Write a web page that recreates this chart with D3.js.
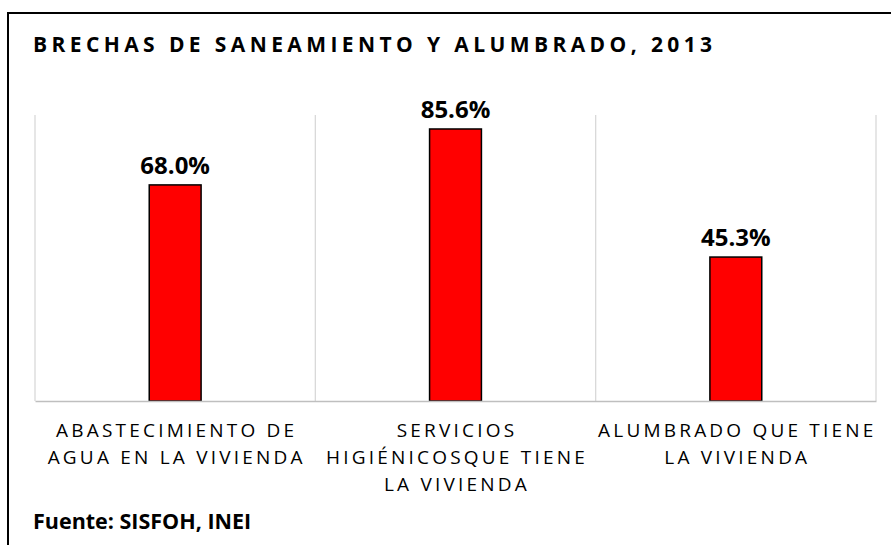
<!DOCTYPE html>
<html>
<head>
<meta charset="utf-8">
<script src="https://cdn.jsdelivr.net/npm/d3@7"></script>
<style>
  html, body { margin: 0; padding: 0; background: #fff; }
  svg { display: block; }
  text { font-family: "Open Sans", "Noto Sans", sans-serif; }
</style>
</head>
<body>
<svg id="chart" width="891" height="545"></svg>
<script>
const title = "BRECHAS DE SANEAMIENTO Y ALUMBRADO, 2013";
const source = "Fuente: SISFOH, INEI";
const categories = [
  ["ABASTECIMIENTO DE", "AGUA EN LA VIVIENDA"],
  ["SERVICIOS", "HIGIÉNICOSQUE TIENE", "LA VIVIENDA"],
  ["ALUMBRADO QUE TIENE", "LA VIVIENDA"]
];
const values = [68.0, 85.6, 45.3];
const valueLabels = ["68.0%", "85.6%", "45.3%"];
const yDomain = [0, 90];

const svg = d3.select("#chart");
const plot = { left: 35, right: 876, top: 115, bottom: 401 };

// outer frame (right and bottom edges fall outside the picture)
svg.append("rect")
  .attr("x", 8).attr("y", 13)
  .attr("width", 1000).attr("height", 1000)
  .attr("fill", "none").attr("stroke", "#000").attr("stroke-width", 2);

const x = d3.scaleBand()
  .domain(d3.range(categories.length))
  .range([plot.left, plot.right])
  .padding(0);
const y = d3.scaleLinear().domain(yDomain).range([plot.bottom, plot.top]);

// vertical category separators
const edges = d3.range(categories.length + 1).map(i => i === categories.length ? plot.right : x(i));
svg.append("g").selectAll("line").data(edges).join("line")
  .attr("x1", d => d).attr("x2", d => d)
  .attr("y1", y(yDomain[1])).attr("y2", y(0))
  .attr("stroke", "#d9d9d9").attr("stroke-width", 1.3);

// bars
const barW = x.bandwidth() * 0.185;
svg.append("g").selectAll("rect").data(values).join("rect")
  .attr("x", (d, i) => x(i) + x.bandwidth() / 2 - barW / 2)
  .attr("y", d => y(d))
  .attr("width", barW)
  .attr("height", d => y(0) - y(d))
  .attr("fill", "#ff0000")
  .attr("stroke", "#000")
  .attr("stroke-width", 1.5);

// baseline axis
const xAxis = d3.axisBottom(x).tickSize(0).tickFormat("");
const ax = svg.append("g").attr("transform", `translate(0,${y(0)})`).call(xAxis);
ax.select(".domain").attr("stroke", "#bfbfbf").attr("stroke-width", 1.3);

// value labels
svg.append("g").selectAll("text").data(values).join("text")
  .attr("x", (d, i) => x(i) + x.bandwidth() / 2)
  .attr("y", d => y(d) - 11)
  .attr("text-anchor", "middle")
  .attr("font-size", 24)
  .attr("font-weight", 700)
  .attr("fill", "#000")
  .text((d, i) => valueLabels[i]);

// category labels
const catG = svg.append("g");
categories.forEach((lines, i) => {
  lines.forEach((line, j) => {
    catG.append("text")
      .attr("x", x(i) + x.bandwidth() / 2 + 1.5)
      .attr("y", 437 + j * 27)
      .attr("text-anchor", "middle")
      .attr("font-size", 19)
      .attr("letter-spacing", "3.2px")
      .attr("fill", "#000")
      .text(line);
  });
});

// title
svg.append("text")
  .attr("x", 33).attr("y", 52)
  .attr("font-size", 21)
  .attr("font-weight", 700)
  .attr("letter-spacing", "4.4px")
  .attr("fill", "#000")
  .text(title);

// source
svg.append("text")
  .attr("x", 33).attr("y", 529)
  .attr("font-size", 21.5)
  .attr("font-weight", 700)
  .attr("fill", "#000")
  .text(source);
</script>
</body>
</html>
